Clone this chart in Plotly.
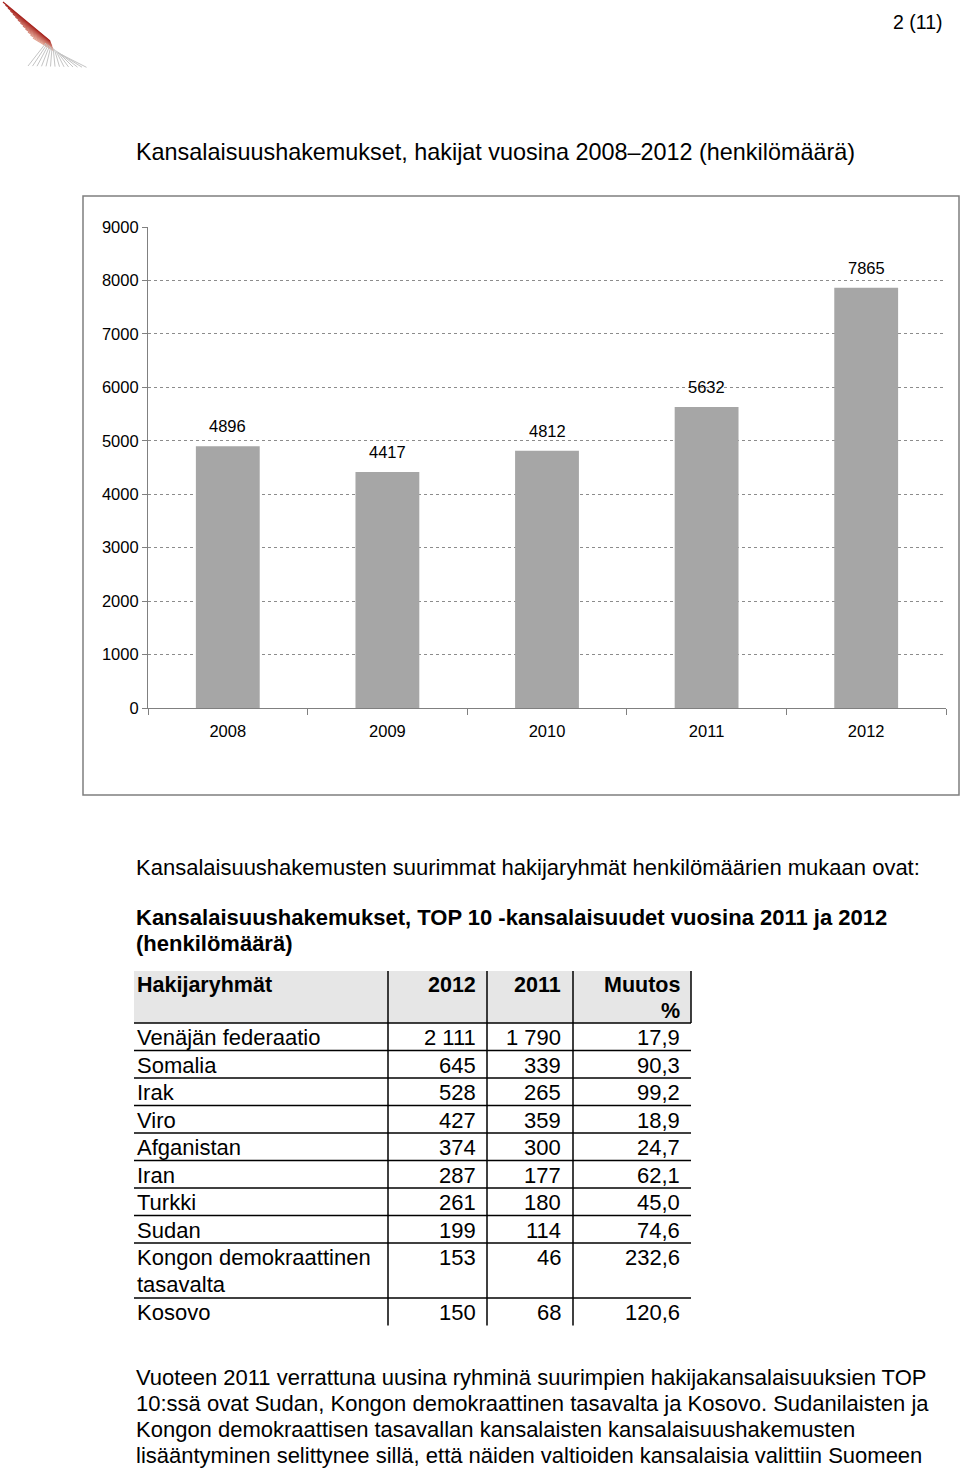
import plotly.graph_objects as go

W, H = 960, 1469

# ---------------- data ----------------
years = ["2008", "2009", "2010", "2011", "2012"]
applicants = [4896, 4417, 4812, 5632, 7865]
y_ticks = [0, 1000, 2000, 3000, 4000, 5000, 6000, 7000, 8000, 9000]

groups = ["Venäjän federaatio", "Somalia", "Irak", "Viro", "Afganistan", "Iran",
          "Turkki", "Sudan", "Kongon demokraattinen<br>tasavalta", "Kosovo"]
v2012 = ["2 111", "645", "528", "427", "374", "287", "261", "199", "153", "150"]
v2011 = ["1 790", "339", "265", "359", "300", "177", "180", "114", "46", "68"]
change = ["17,9", "90,3", "99,2", "18,9", "24,7", "62,1", "45,0", "74,6", "232,6", "120,6"]
header = ["Hakijaryhmät", "2012", "2011", "Muutos<br>%"]

page_no = "2 (11)"
title1 = "Kansalaisuushakemukset, hakijat vuosina 2008–2012 (henkilömäärä)"
intro = "Kansalaisuushakemusten suurimmat hakijaryhmät henkilömäärien mukaan ovat:"
title2 = ["Kansalaisuushakemukset, TOP 10 -kansalaisuudet vuosina 2011 ja 2012",
          "(henkilömäärä)"]
paragraph = [
    "Vuoteen 2011 verrattuna uusina ryhminä suurimpien hakijakansalaisuuksien TOP",
    "10:ssä ovat Sudan, Kongon demokraattinen tasavalta ja Kosovo. Sudanilaisten ja",
    "Kongon demokraattisen tasavallan kansalaisten kansalaisuushakemusten",
    "lisääntyminen selittynee sillä, että näiden valtioiden kansalaisia valittiin Suomeen",
]

FONT = "Liberation Sans, Arial, Helvetica, sans-serif"


def px(x):
    return x / W


def py(y):
    return 1 - y / H


annotations = []
shapes = []


def text(x, y, s, size=22, anchor="left", bold=False, color="black"):
    xx = x - 2 if anchor == "left" else x + 2
    annotations.append(dict(
        x=px(xx), y=py(y), xref="paper", yref="paper", text=f"<b>{s}</b>" if bold else s,
        showarrow=False, xanchor=anchor, yanchor="middle", align=anchor,
        font=dict(family=FONT, size=size, color=color)))


def line(x0, y0, x1, y1, color="black", width=1.5):
    shapes.append(dict(type="line", xref="paper", yref="paper",
                       x0=px(x0), y0=py(y0), x1=px(x1), y1=py(y1),
                       line=dict(color=color, width=width)))


# ---------------- bar chart ----------------
fig = go.Figure()
fig.add_trace(go.Bar(x=years, y=applicants, marker=dict(color="#a6a6a6", line=dict(width=0)),
                     width=0.4, hoverinfo="x+y"))

for i, v in enumerate(applicants):
    annotations.append(dict(x=i, y=v, xref="x", yref="y", text=str(v), showarrow=False,
                            yanchor="bottom", yshift=9,
                            font=dict(family=FONT, size=16.5, color="black")))

# chart frame
shapes.append(dict(type="rect", xref="paper", yref="paper", x0=px(83), y0=py(795),
                   x1=px(959), y1=py(196), line=dict(color="#7f7f7f", width=1.5)))

# ---------------- logo (decorative) ----------------
for k in range(13):
    line(3 + 2.5 * k, 2 + 3.0 * k, 50 + 0.3 * k, 41 + 0.8 * k,
         color=f"rgb({int(165 + 5 * k)},{int(30 + 11 * k)},{int(25 + 10 * k)})", width=1.2)
for k in range(14):
    line(46 + 1.2 * k, 43 + 0.9 * k, 28 + 4.5 * k, 66 + 0.1 * k, color="#c4c4c4", width=1)

# ---------------- texts ----------------
text(943, 22, page_no, size=19.5, anchor="right")
text(136, 152, title1, size=23.4)
text(136, 867, intro, size=22)
text(136, 917, title2[0], size=22, bold=True)
text(136, 943, title2[1], size=22, bold=True)
for i, s in enumerate(paragraph):
    text(136, 1377 + i * 26.2, s, size=22)

# ---------------- table ----------------
tx_left, tx_right = 134, 691
col_lines = [388, 487, 573]
col_right = [476, 561, 680]
hdr_top, hdr_bot = 971, 1023
row_h = 27.5

shapes.append(dict(type="rect", xref="paper", yref="paper", x0=px(tx_left), y0=py(hdr_bot),
                   x1=px(tx_right), y1=py(hdr_top), fillcolor="#e6e6e6", line=dict(width=0),
                   layer="below"))

# header
text(137, 985, header[0], size=21.5, bold=True)
for j in range(1, 3):
    text(col_right[j - 1], 985, header[j], size=21.5, bold=True, anchor="right")
for k, part in enumerate(header[3].split("<br>")):
    text(col_right[2], 985 + k * 26, part, size=21.5, bold=True, anchor="right")

line(tx_left, hdr_bot, tx_right, hdr_bot)
line(tx_right, hdr_top, tx_right, hdr_bot)

y = hdr_bot
for i, g in enumerate(groups):
    parts = g.split("<br>")
    h = row_h * len(parts)
    cy = y + row_h / 2 + 1
    for k, p in enumerate(parts):
        text(137, cy + k * 26.5, p, size=22)
    text(col_right[0], cy, v2012[i], size=22, anchor="right")
    text(col_right[1], cy, v2011[i], size=22, anchor="right")
    text(col_right[2], cy, change[i], size=22, anchor="right")
    y += h
    if i < len(groups) - 1:
        line(tx_left, y, tx_right, y)

for cx in col_lines:
    line(cx, hdr_top, cx, y)

fig.update_layout(
    width=W, height=H, autosize=False,
    margin=dict(l=0, r=0, t=0, b=0, pad=0, autoexpand=False),
    paper_bgcolor="white", plot_bgcolor="white",
    showlegend=False,
    annotations=annotations, shapes=shapes,
    xaxis=dict(domain=[px(148), px(946)], type="category", range=[-0.5, 4.5],
               showline=True, linecolor="#808080", linewidth=1.2,
               ticks="outside", tickson="boundaries", ticklen=6, tickcolor="#808080",
               tickfont=dict(family=FONT, size=16.5, color="black"),
               ticklabelstandoff=8, showgrid=False, fixedrange=True, automargin=False),
    yaxis=dict(domain=[py(708), py(227)], range=[0, 9000], tickvals=y_ticks,
               showline=True, linecolor="#808080", linewidth=1.2,
               ticks="outside", ticklen=5, tickcolor="#808080",
               tickfont=dict(family=FONT, size=16.5, color="black"),
               showgrid=True, gridcolor="#8c8c8c", gridwidth=1, griddash="dot",
               zeroline=False, fixedrange=True, automargin=False),
)

fig.write_html("out.html")
